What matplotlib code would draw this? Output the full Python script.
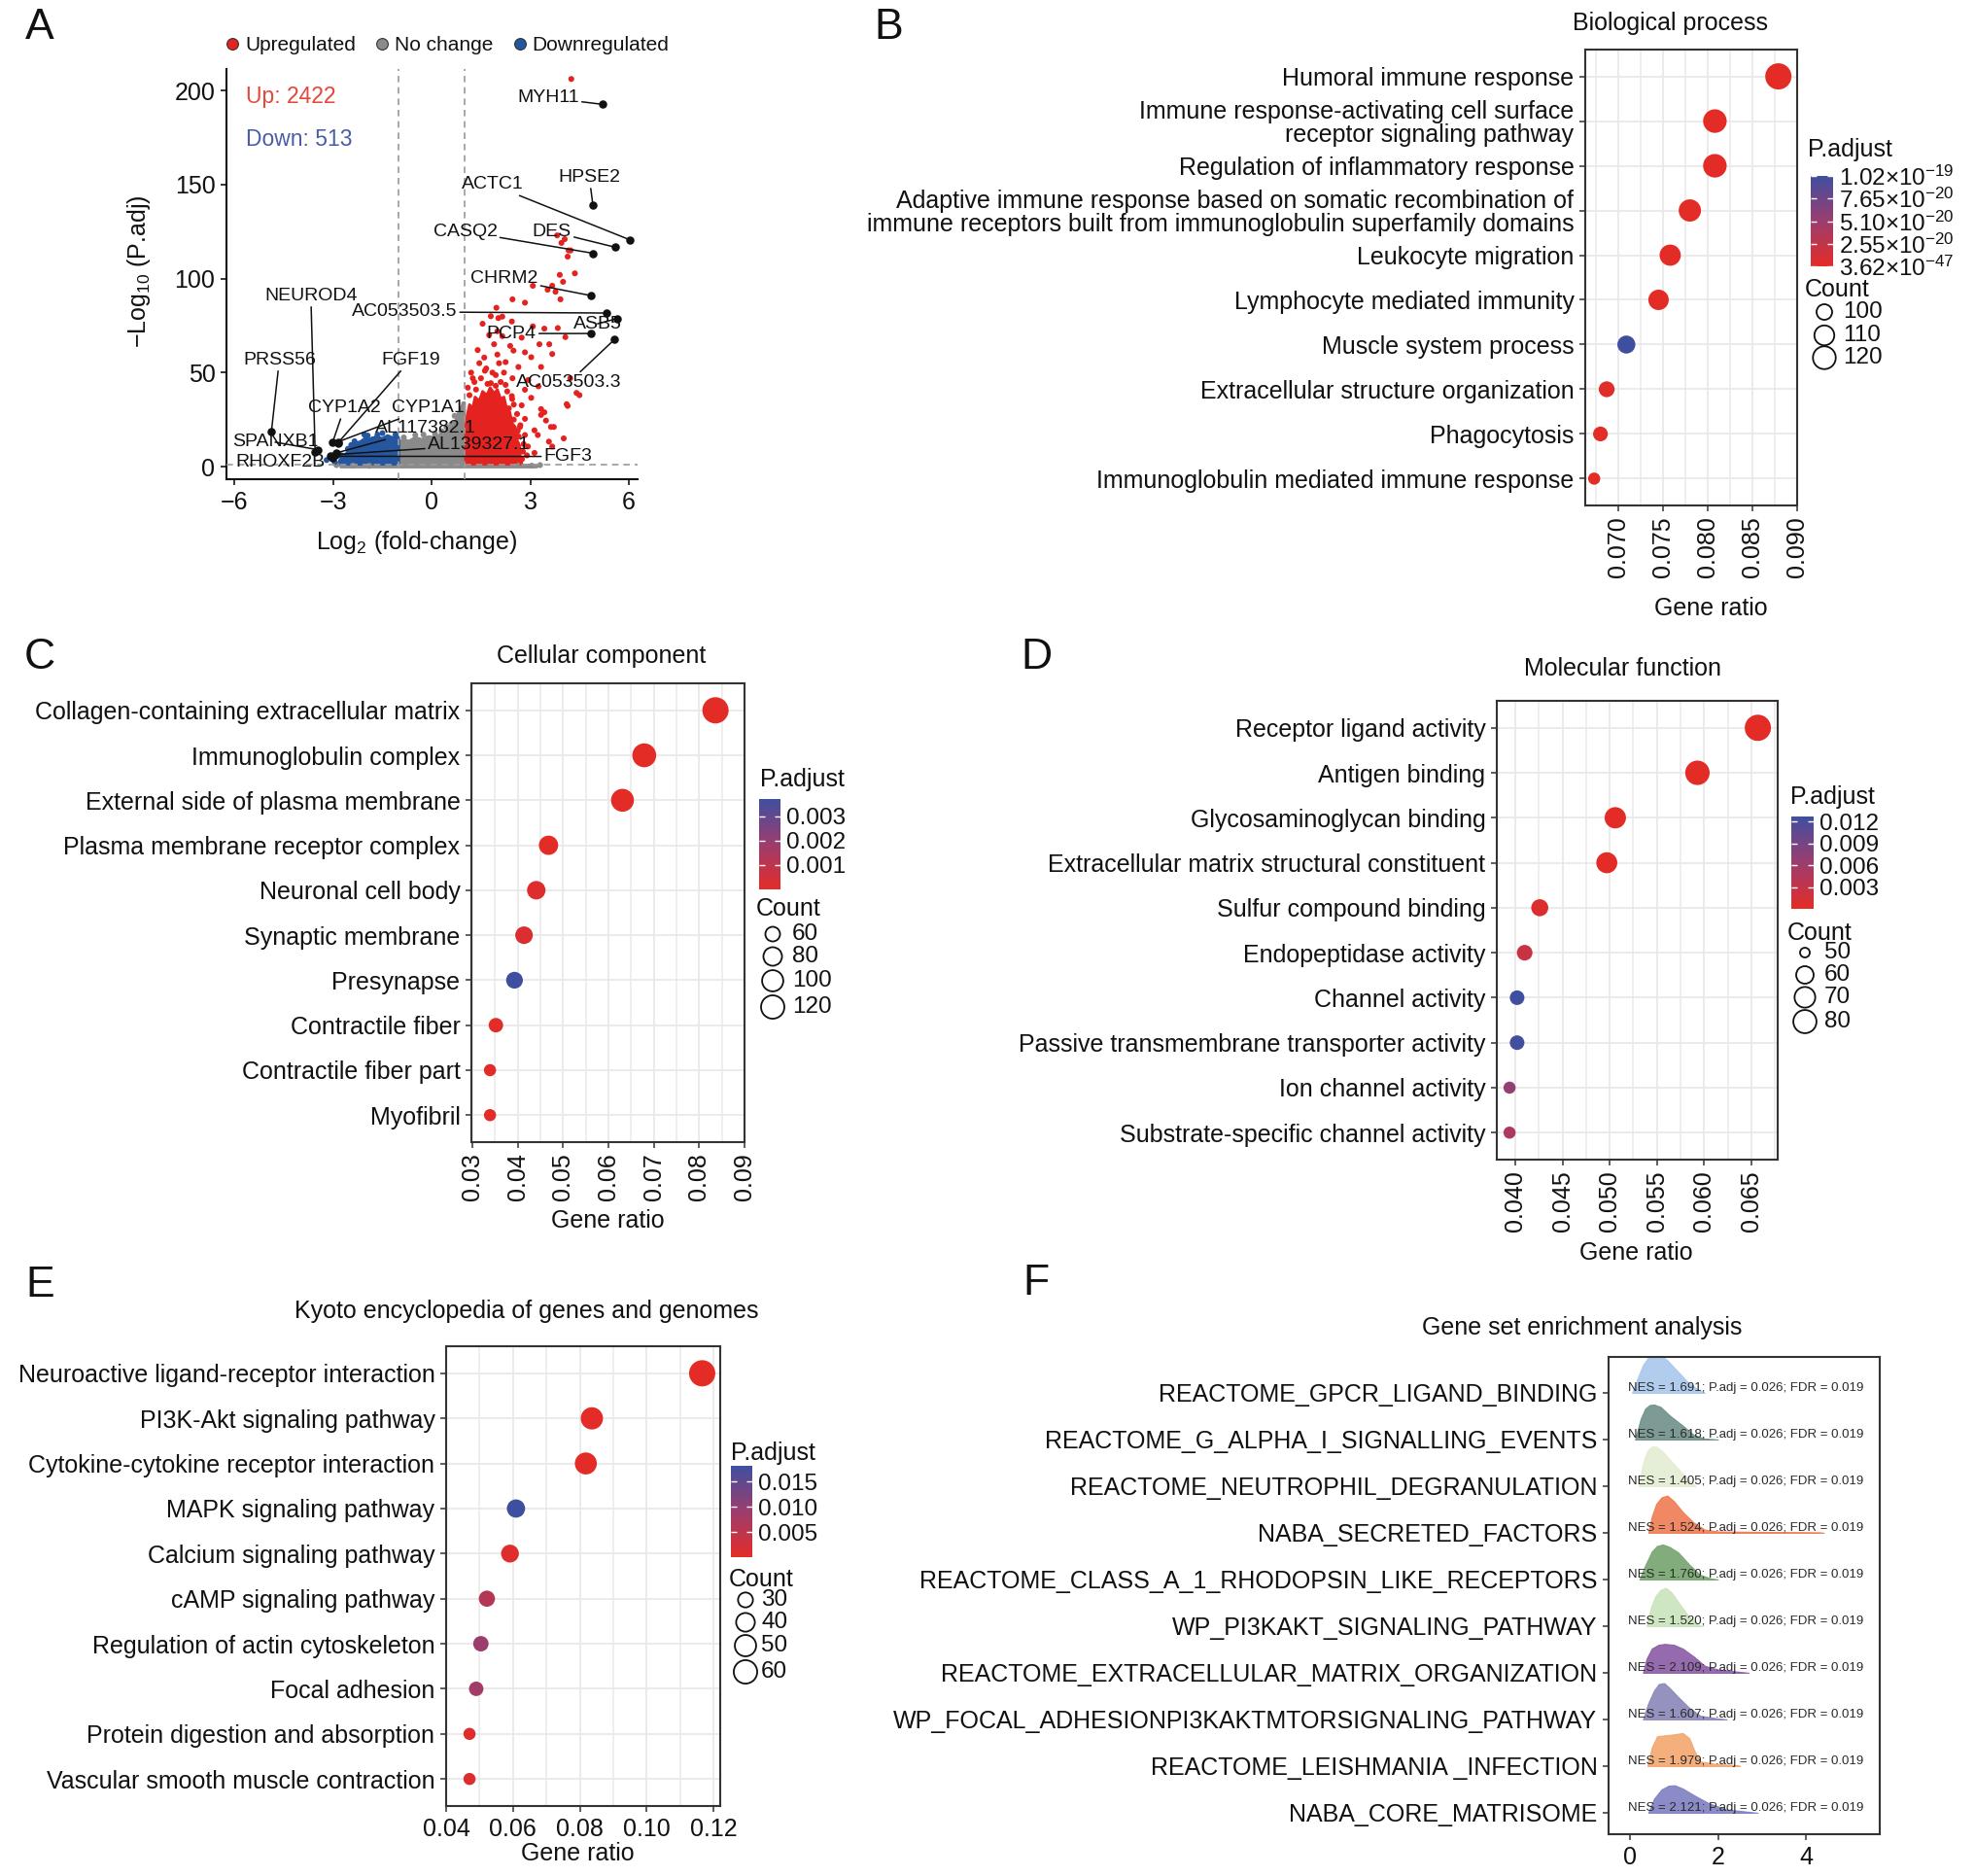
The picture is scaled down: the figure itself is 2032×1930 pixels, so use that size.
import numpy as np
import matplotlib
matplotlib.use("Agg")
import matplotlib.pyplot as plt
from matplotlib.colors import LinearSegmentedColormap, Normalize
from matplotlib.cm import ScalarMappable
from matplotlib.lines import Line2D

plt.rcParams['font.family'] = ['Liberation Sans', 'DejaVu Sans']
plt.rcParams['mathtext.fontset'] = 'custom'
plt.rcParams['mathtext.rm'] = 'Liberation Sans'
plt.rcParams['mathtext.it'] = 'Liberation Sans:italic'
plt.rcParams['mathtext.bf'] = 'Liberation Sans:bold'
plt.rcParams['mathtext.default'] = 'regular'
plt.rcParams['axes.unicode_minus'] = True

# ---------------- DATA ----------------
# Panel A: volcano
up_n, down_n = 2422, 513
red_pts = [(4.25, 206.2), (3.82, 123), (4.17, 115), (4.14, 111.7), (3.90, 102), (4.36, 102.8),
           (4.00, 98.3), (3.67, 96.2), (3.08, 96.2), (3.53, 94.1), (3.77, 93), (3.92, 89),
           (2.46, 89), (2.84, 87.2), (1.97, 84.5), (2.15, 79.8), (2.03, 79), (2.44, 77.2),
           (3.08, 74.6), (3.43, 73.4), (3.84, 73.7), (4.07, 68.9), (1.90, 65.1), (2.15, 69.4),
           (2.74, 68.6), (2.39, 64.2), (3.28, 65.1), (3.58, 65.1), (2.00, 59.6), (2.49, 61.7),
           (2.84, 60.8), (3.67, 59.9), (2.25, 55.6), (3.03, 58.2), (1.66, 52.2), (2.64, 53.0),
           (3.33, 53.0), (1.95, 48.7), (2.46, 47.0), (2.94, 46.1), (4.22, 47.0), (1.80, 44.4),
           (2.25, 43.5), (2.84, 40.9), (3.25, 42.7), (2.44, 37.5), (3.03, 36.6), (4.14, 32.3),
           (2.74, 32.6), (3.33, 30.6), (2.84, 25.4), (3.63, 21.1), (3.23, 16.8), (4.02, 15.0),
           (3.67, 10.7), (2.54, 2.9), (3.13, 7.3), (3.33, 27.5), (2.59, 12.4), (2.84, 16.8),
           (2.69, 21.1), (4.41, 39.2), (4.11, 33.2), (3.43, 28.9), (3.48, 24.5), (3.72, 21.1),
           (3.13, 19.3), (2.55, 15.0), (3.57, 13.3), (2.93, 10.7), (2.55, 3.8), (4.23, 115),
           (4.50, 38), (3.95, 119), (4.05, 121),
           (1.1, 42), (1.3, 45), (1.5, 47), (1.7, 44), (2.1, 45), (2.3, 40), (2.5, 33),
           (2.6, 28), (2.7, 22), (2.8, 12), (2.9, 6), (1.2, 50), (1.45, 55), (1.6, 58),
           (1.85, 50), (2.2, 50), (1.4, 62), (1.75, 70), (2.0, 72), (1.55, 76), (1.8, 80),
           (1.15, 38), (2.45, 36), (2.65, 16), (2.75, 4), (1.35, 41), (1.95, 43), (2.35, 31),
           (2.5, 25), (2.62, 19), (2.78, 8), (1.62, 51), (2.05, 55), (1.25, 47)]
blue_pts = [(-3.2, 3.5), (-2.95, 2.4), (-2.75, 6.0), (-2.55, 9.5), (-2.35, 13.5), (-2.05, 17),
            (-1.8, 14.5), (-1.5, 17.8), (-1.3, 15.2), (-1.1, 17.2), (-2.6, 3.0), (-2.2, 2.2),
            (-1.6, 2.0), (-1.2, 2.5), (-2.45, 11.5), (-1.95, 16.5), (-1.65, 17.0)]
grey_pts = [(-2.9, 0.8), (-2.4, 0.5), (-1.9, 0.4), (2.6, 0.9), (3.05, 0.5), (3.3, 0.8),
            (0.6, 22.5), (0.85, 28), (0.92, 31), (0.3, 18.8), (-0.5, 16.8), (-0.85, 15.5),
            (0.1, 17.5), (0.7, 27), (0.45, 21), (-0.25, 17)]
# dense clouds (outline of the solid masses of overlapping points)
red_cloud = [(1.03, 1.3), (1.03, 20), (1.08, 27), (1.15, 33), (1.25, 31), (1.32, 37),
             (1.45, 35), (1.55, 40), (1.68, 38), (1.78, 42), (1.9, 39), (2.0, 41), (2.1, 36),
             (2.2, 37), (2.28, 31), (2.38, 29), (2.45, 23), (2.55, 21), (2.6, 14), (2.68, 11),
             (2.7, 5), (2.75, 1.3)]
grey_cloud = [(-1.0, 0.0), (-1.0, 13), (-0.85, 14.5), (-0.7, 13.5), (-0.5, 15.5), (-0.3, 14.5),
              (-0.1, 16), (0.1, 15.5), (0.3, 17.5), (0.45, 19), (0.6, 21), (0.7, 24), (0.8, 26),
              (0.88, 30), (0.95, 34), (1.0, 34), (1.0, 0.0)]
grey_band = [(-2.8, 0.0), (3.2, 0.0), (3.2, 1.3), (-2.8, 1.3)]
blue_cloud = [(-2.85, 1.3), (-2.8, 3.5), (-2.7, 5.5), (-2.6, 7), (-2.5, 9.5), (-2.4, 10.5),
              (-2.3, 12.5), (-2.15, 13.5), (-2.0, 15.5), (-1.85, 14.5), (-1.7, 16), (-1.5, 15),
              (-1.35, 16.5), (-1.2, 15.5), (-1.05, 16.5), (-1.0, 15), (-1.0, 1.3)]
genes = ["MYH11", "HPSE2", "ACTC1", "DES", "CASQ2", "CHRM2", "AC053503.5", "ASB5", "PCP4",
         "AC053503.3", "PRSS56", "NEUROD4", "FGF19", "CYP1A2", "CYP1A1", "AL117382.1",
         "AL139327.1", "FGF3", "SPANXB1", "RHOXF2B"]
gene_x = [5.21, 4.91, 6.04, 5.59, 4.91, 4.84, 5.32, 5.66, 4.84, 5.57, -4.88, -3.55, -2.86,
          -3.02, -2.85, -2.9, -2.93, -3.07, -3.47, -3.02]
gene_y = [192.7, 139, 120.6, 116.7, 113.5, 91, 81.7, 78.8, 70.8, 67.7, 18.8, 7.7, 12.5,
          12.8, 13.2, 7.3, 6.4, 5.5, 9.0, 4.7]
label_x = [3.55, 4.80, 1.84, 3.66, 1.02, 2.21, -0.83, 5.05, 2.43, 4.17, -4.64, -3.68, -0.65,
           -2.66, -0.11, -0.19, 1.43, 4.15, -4.77, -4.61]
label_y = [196.2, 153.8, 150, 125, 125, 100, 82.3, 76, 70.8, 44.6, 56.7, 90.8, 56.7,
           31.2, 31.2, 20.2, 11.5, 5.4, 13, 2.3]

# Panel B: GO biological process
B_terms = ["Humoral immune response",
           "Immune response-activating cell surface\nreceptor signaling pathway",
           "Regulation of inflammatory response",
           "Adaptive immune response based on somatic recombination of\nimmune receptors built from immunoglobulin superfamily domains",
           "Leukocyte migration", "Lymphocyte mediated immunity", "Muscle system process",
           "Extracellular structure organization", "Phagocytosis",
           "Immunoglobulin mediated immune response"]
B_ratio = [0.0879, 0.0808, 0.0808, 0.0780, 0.0758, 0.0745, 0.0709, 0.0687, 0.0680, 0.0673]
B_count = [124, 114, 114, 110, 107, 105, 100, 97, 96, 95]
B_padj = [3.62e-47, 1.2e-30, 2.0e-29, 4.0e-33, 1.0e-24, 3.0e-27, 1.02e-19, 2.0e-21, 5.0e-22, 1.0e-26]
B_cticks = [3.62e-47, 2.55e-20, 5.10e-20, 7.65e-20, 1.02e-19]
B_clabels = [r"3.62$\times$10$^{-47}$", r"2.55$\times$10$^{-20}$", r"5.10$\times$10$^{-20}$",
             r"7.65$\times$10$^{-20}$", r"1.02$\times$10$^{-19}$"]
B_sizes = [100, 110, 120]

# Panel C: GO cellular component
C_terms = ["Collagen-containing extracellular matrix", "Immunoglobulin complex",
           "External side of plasma membrane", "Plasma membrane receptor complex",
           "Neuronal cell body", "Synaptic membrane", "Presynapse", "Contractile fiber",
           "Contractile fiber part", "Myofibril"]
C_ratio = [0.0836, 0.0679, 0.0631, 0.0468, 0.0441, 0.0414, 0.0393, 0.0352, 0.0339, 0.0339]
C_count = [125, 102, 94, 70, 66, 62, 59, 53, 51, 51]
C_padj = [1e-12, 2e-10, 5e-9, 2e-6, 1.5e-4, 2.5e-4, 3.7e-3, 1e-4, 5e-5, 5e-5]
C_cticks = [0.001, 0.002, 0.003]
C_sizes = [60, 80, 100, 120]

# Panel D: GO molecular function
D_terms = ["Receptor ligand activity", "Antigen binding", "Glycosaminoglycan binding",
           "Extracellular matrix structural constituent", "Sulfur compound binding",
           "Endopeptidase activity", "Channel activity",
           "Passive transmembrane transporter activity", "Ion channel activity",
           "Substrate-specific channel activity"]
D_ratio = [0.0657, 0.0593, 0.0506, 0.0497, 0.0426, 0.0410, 0.0402, 0.0402, 0.0394, 0.0394]
D_count = [83, 75, 64, 63, 54, 52, 51, 51, 50, 50]
D_padj = [1e-8, 1e-7, 2e-5, 3e-5, 8e-4, 2.5e-3, 1.27e-2, 1.25e-2, 6.8e-3, 5.0e-3]
D_cticks = [0.003, 0.006, 0.009, 0.012]
D_sizes = [50, 60, 70, 80]

# Panel E: KEGG
E_terms = ["Neuroactive ligand-receptor interaction", "PI3K-Akt signaling pathway",
           "Cytokine-cytokine receptor interaction", "MAPK signaling pathway",
           "Calcium signaling pathway", "cAMP signaling pathway",
           "Regulation of actin cytoskeleton", "Focal adhesion",
           "Protein digestion and absorption", "Vascular smooth muscle contraction"]
E_ratio = [0.1166, 0.0836, 0.0818, 0.0609, 0.0591, 0.0522, 0.0504, 0.0490, 0.0470, 0.0470]
E_count = [62, 44, 43, 32, 31, 28, 27, 26, 25, 25]
E_padj = [1e-8, 1e-4, 2e-4, 1.81e-2, 8e-4, 6e-3, 9e-3, 8e-3, 6e-4, 1e-3]
E_cticks = [0.005, 0.010, 0.015]
E_sizes = [30, 40, 50, 60]

# Panel F: GSEA ridges
F_terms = ["REACTOME_GPCR_LIGAND_BINDING", "REACTOME_G_ALPHA_I_SIGNALLING_EVENTS",
           "REACTOME_NEUTROPHIL_DEGRANULATION", "NABA_SECRETED_FACTORS",
           "REACTOME_CLASS_A_1_RHODOPSIN_LIKE_RECEPTORS", "WP_PI3KAKT_SIGNALING_PATHWAY",
           "REACTOME_EXTRACELLULAR_MATRIX_ORGANIZATION",
           "WP_FOCAL_ADHESIONPI3KAKTMTORSIGNALING_PATHWAY",
           "REACTOME_LEISHMANIA _INFECTION", "NABA_CORE_MATRISOME"]
F_nes = [1.691, 1.618, 1.405, 1.524, 1.760, 1.520, 2.109, 1.607, 1.979, 2.121]
F_padj = [0.026, 0.026, 0.026, 0.026, 0.026, 0.026, 0.026, 0.026, 0.026, 0.026]
F_fdr = [0.019, 0.019, 0.019, 0.019, 0.019, 0.019, 0.019, 0.019, 0.019, 0.019]
F_colors = ["#A9C7EC", "#6F8F8A", "#E3EDD2", "#EF7B52", "#76A36F",
            "#C9E4BB", "#8B5BA5", "#8A86B8", "#F3A66E", "#7F7EC2"]
ridge_x = [
    [0.05, 0.15, 0.3, 0.42, 0.55, 0.68, 0.85, 1.05, 1.3, 1.5, 1.7],
    [0.12, 0.25, 0.35, 0.45, 0.55, 0.7, 0.9, 1.2, 1.45, 1.7, 2.0],
    [0.2, 0.3, 0.4, 0.5, 0.6, 0.75, 0.9, 1.15, 1.35, 1.5],
    [0.42, 0.5, 0.6, 0.72, 0.85, 1.0, 1.2, 1.45, 1.7, 2.0, 3.0, 4.3, 4.4],
    [0.22, 0.35, 0.5, 0.62, 0.75, 0.9, 1.1, 1.35, 1.6, 1.85, 2.0],
    [0.38, 0.48, 0.58, 0.7, 0.82, 0.95, 1.15, 1.35, 1.55, 1.65],
    [0.3, 0.38, 0.5, 0.65, 0.8, 1.0, 1.2, 1.45, 1.7, 2.0, 2.4, 2.7],
    [0.3, 0.42, 0.55, 0.66, 0.78, 0.9, 1.1, 1.35, 1.6, 2.0, 2.2],
    [0.4, 0.5, 0.62, 0.8, 1.0, 1.2, 1.35, 1.48, 1.6, 2.0, 2.45, 2.5],
    [0.42, 0.55, 0.72, 0.88, 1.02, 1.2, 1.45, 1.8, 2.2, 2.6, 2.9]]
ridge_h = [
    [0.0, 0.25, 0.6, 0.76, 0.82, 0.82, 0.7, 0.5, 0.25, 0.1, 0.0],
    [0.0, 0.45, 0.66, 0.74, 0.75, 0.7, 0.52, 0.3, 0.1, 0.02, 0.0],
    [0.0, 0.5, 0.76, 0.85, 0.85, 0.74, 0.58, 0.32, 0.12, 0.0],
    [0.0, 0.35, 0.62, 0.76, 0.8, 0.68, 0.45, 0.22, 0.07, 0.03, 0.02, 0.01, 0.0],
    [0.0, 0.3, 0.6, 0.72, 0.75, 0.7, 0.58, 0.32, 0.1, 0.02, 0.0],
    [0.0, 0.4, 0.64, 0.78, 0.82, 0.72, 0.45, 0.2, 0.03, 0.0],
    [0.0, 0.3, 0.52, 0.6, 0.62, 0.6, 0.52, 0.35, 0.15, 0.07, 0.03, 0.0],
    [0.0, 0.35, 0.62, 0.76, 0.78, 0.68, 0.48, 0.25, 0.08, 0.02, 0.0],
    [0.0, 0.4, 0.64, 0.66, 0.68, 0.71, 0.6, 0.3, 0.1, 0.04, 0.02, 0.0],
    [0.0, 0.3, 0.5, 0.58, 0.59, 0.52, 0.38, 0.2, 0.07, 0.03, 0.0]]

# ---------------- FIGURE ----------------
W, H = 2032, 1930
fig = plt.figure(figsize=(W / 100, H / 100), dpi=100)
TXT = '#111111'
FS = 18
cmap = LinearSegmentedColormap.from_list('padj', ['#E42C27', '#9C3D6E', '#3F4FA0'])


def add_ax(l, t, r, b, **kw):
    return fig.add_axes([l / W, 1 - b / H, (r - l) / W, (b - t) / H], **kw)


ov = fig.add_axes([0, 0, 1, 1], zorder=10)
ov.set_xlim(0, W)
ov.set_ylim(H, 0)
ov.axis('off')


def T(x, y, s, **kw):
    kw.setdefault('color', TXT)
    return ov.text(x, y, s, **kw)


def dot_diam(c, lo, hi):
    c = np.asarray(c, float)
    return 12.5 + 14.5 * np.sqrt(np.clip((c - lo) / (hi - lo), 0, 1))


def style_box(ax):
    for sp in ax.spines.values():
        sp.set_color('#333333')
        sp.set_linewidth(1.5)
    ax.tick_params(which='major', length=4.3, width=1.1, color='#333333',
                   labelsize=FS, labelcolor=TXT, pad=4)
    ax.tick_params(which='minor', length=0)


def dotplot(box, terms, ratio, count, padj, xlim, xmaj, xlabs, xmin, rot, vmax):
    ax = add_ax(*box)
    n = len(terms)
    y = np.arange(n, 0, -1)
    ax.set_xlim(*xlim)
    ax.set_ylim(0.4, n + 0.6)
    ax.set_xticks(xmaj)
    ax.set_xticklabels(xlabs, rotation=rot)
    ax.set_xticks(xmin, minor=True)
    ax.set_yticks(y)
    ax.set_yticklabels(terms, linespacing=1.0)
    ax.grid(True, which='major', color='#E9E9E9', lw=1.3)
    ax.grid(True, which='minor', axis='x', color='#E9E9E9', lw=1.1)
    ax.set_axisbelow(True)
    d = dot_diam(count, min(count), max(count))
    ax.scatter(ratio, y, s=(0.72 * d) ** 2, c=padj, cmap=cmap, norm=Normalize(0, vmax),
               edgecolors='none', zorder=3, clip_on=False)
    style_box(ax)
    return ax


def colorbar(box, vmax, ticks, labels):
    cax = add_ax(*box)
    sm = ScalarMappable(norm=Normalize(0, vmax), cmap=cmap)
    cb = fig.colorbar(sm, cax=cax)
    cb.outline.set_visible(False)
    cb.set_ticks(ticks)
    cb.set_ticklabels(labels)
    cax.yaxis.set_ticks_position('both')
    cax.tick_params(axis='y', direction='in', length=4, width=1, color='white',
                    labelcolor=TXT, labelsize=17.5, pad=4, labelleft=False, labelright=True)


def size_legend(xc, ys, xl, values, count):
    d = dot_diam(values, min(count), max(count)) - 2.5
    ov.scatter([xc] * len(values), ys, s=(0.72 * d) ** 2, facecolors='none',
               edgecolors=TXT, linewidths=1.3)
    for yy, v in zip(ys, values):
        T(xl, yy, str(v), ha='left', va='center', fontsize=17.5)


# ---------- Panel A ----------
axA = add_ax(233, 71, 656, 493)
axA.set_xlim(-6.25, 6.27)
axA.set_ylim(-6.7, 211.5)
c_up, c_nc, c_dn = '#E42320', '#8A8A8A', '#24579F'
for poly, col in [(grey_band, c_nc), (grey_cloud, c_nc), (blue_cloud, c_dn), (red_cloud, c_up)]:
    p = np.array(poly)
    axA.fill(p[:, 0], p[:, 1], color=col, lw=2, joinstyle='round', zorder=2)
for pts, col in [(grey_pts, c_nc), (blue_pts, c_dn), (red_pts, c_up)]:
    p = np.array(pts)
    axA.scatter(p[:, 0], p[:, 1], s=19, color=col, edgecolors='none', zorder=3)
for xv in (-1, 1):
    axA.axvline(xv, color='#9A9A9A', lw=1.2, ls=(0, (4, 3)), zorder=4)
axA.axhline(-np.log10(0.05), color='#9A9A9A', lw=1.2, ls=(0, (4, 3)), zorder=4)
axA.scatter(gene_x, gene_y, s=26, color='#111111', zorder=6)
for g, px, py, tx, ty in zip(genes, gene_x, gene_y, label_x, label_y):
    axA.annotate(g, xy=(px, py), xytext=(tx, ty), ha='center', va='center', fontsize=14,
                 color=TXT, zorder=7,
                 arrowprops=dict(arrowstyle='-', color='#111111', lw=1.1, shrinkA=0, shrinkB=2))
axA.text(-5.66, 197, f"Up: {up_n}", color='#E5473A', fontsize=16.5, ha='left', va='center')
axA.text(-5.66, 174, f"Down: {down_n}", color='#4A5EA8', fontsize=16.5, ha='left', va='center')
axA.set_xticks([-6, -3, 0, 3, 6])
axA.set_yticks([0, 50, 100, 150, 200])
for s in ('top', 'right'):
    axA.spines[s].set_visible(False)
for s in ('left', 'bottom'):
    axA.spines[s].set_linewidth(1.5)
    axA.spines[s].set_color('#111111')
axA.tick_params(length=4.3, width=1.1, labelsize=FS, labelcolor=TXT, pad=4)
T(429, 558, r"Log$_{2}$ (fold-change)", ha='center', va='center', fontsize=FS)
T(143, 279, r"$-$Log$_{10}$ (P.adj)", ha='center', va='center', fontsize=FS, rotation=90)
handles = [Line2D([], [], marker='o', ls='', markersize=8.5, markerfacecolor=c, markeredgecolor='#333333',
                  markeredgewidth=0.8) for c in (c_up, c_nc, c_dn)]
axA.legend(handles, ['Upregulated', 'No change', 'Downregulated'], ncol=3, loc='center left',
           bbox_to_anchor=(229 / W, 1 - 47 / H), bbox_transform=fig.transFigure, frameon=False,
           handletextpad=0.12, columnspacing=0.8, handlelength=1.0, borderaxespad=0, borderpad=0,
           fontsize=15, labelcolor=TXT)

# ---------- Panel B ----------
dotplot((1631, 51, 1849, 520), B_terms, B_ratio, B_count, B_padj, (0.0663, 0.0900),
        [0.070, 0.075, 0.080, 0.085, 0.090], ["0.070", "0.075", "0.080", "0.085", "0.090"],
        [0.0675, 0.0725, 0.0775, 0.0825, 0.0875], 90, 1.02e-19)
colorbar((1863, 181, 1886, 274), 1.02e-19, B_cticks, B_clabels)
T(1860, 154, "P.adjust", ha='left', va='center', fontsize=FS)
T(1857, 298, "Count", ha='left', va='center', fontsize=FS)
size_legend(1877, [321, 345, 368], 1896, B_sizes, B_count)
T(1718, 24, "Biological process", ha='center', va='center', fontsize=FS)
T(1760, 626, "Gene ratio", ha='center', va='center', fontsize=FS)

# ---------- Panel C ----------
dotplot((485, 703, 766, 1175), C_terms, C_ratio, C_count, C_padj, (0.0298, 0.0900),
        [0.03, 0.04, 0.05, 0.06, 0.07, 0.08, 0.09],
        ["0.03", "0.04", "0.05", "0.06", "0.07", "0.08", "0.09"],
        [0.035, 0.045, 0.055, 0.065, 0.075, 0.085], 90, 0.0037)
colorbar((781, 822, 803, 915), 0.0037, C_cticks, ["0.001", "0.002", "0.003"])
T(782, 802, "P.adjust", ha='left', va='center', fontsize=FS)
T(778, 935, "Count", ha='left', va='center', fontsize=FS)
size_legend(795, [961, 984, 1009, 1036], 815, C_sizes, C_count)
T(619, 675, "Cellular component", ha='center', va='center', fontsize=FS)
T(625, 1256, "Gene ratio", ha='center', va='center', fontsize=FS)

# ---------- Panel D ----------
dotplot((1540, 721, 1829, 1193), D_terms, D_ratio, D_count, D_padj, (0.03805, 0.0678),
        [0.040, 0.045, 0.050, 0.055, 0.060, 0.065],
        ["0.040", "0.045", "0.050", "0.055", "0.060", "0.065"],
        [0.0425, 0.0475, 0.0525, 0.0575, 0.0625, 0.0675], 90, 0.0127)
colorbar((1843, 840, 1866, 935), 0.0127, D_cticks, ["0.003", "0.006", "0.009", "0.012"])
T(1842, 820, "P.adjust", ha='left', va='center', fontsize=FS)
T(1839, 960, "Count", ha='left', va='center', fontsize=FS)
size_legend(1857, [980, 1003, 1026, 1051], 1877, D_sizes, D_count)
T(1670, 688, "Molecular function", ha='center', va='center', fontsize=FS)
T(1683, 1289, "Gene ratio", ha='center', va='center', fontsize=FS)

# ---------- Panel E ----------
dotplot((459, 1385, 741, 1858), E_terms, E_ratio, E_count, E_padj, (0.040, 0.122),
        [0.04, 0.06, 0.08, 0.10, 0.12], ["0.04", "0.06", "0.08", "0.10", "0.12"],
        [0.05, 0.07, 0.09, 0.11], 0, 0.0181)
colorbar((752, 1508, 774, 1602), 0.0181, E_cticks, ["0.005", "0.010", "0.015"])
T(752, 1495, "P.adjust", ha='left', va='center', fontsize=FS)
T(750, 1625, "Count", ha='left', va='center', fontsize=FS)
size_legend(767, [1646, 1669, 1693, 1720], 783, E_sizes, E_count)
T(542, 1349, "Kyoto encyclopedia of genes and genomes", ha='center', va='center', fontsize=FS)
T(594, 1907, "Gene ratio", ha='center', va='center', fontsize=FS)

# ---------- Panel F ----------
axF = add_ax(1655, 1396, 1934, 1887)
nF = len(F_terms)
basesF = np.arange(nF, 0, -1)
for i in range(nF):
    xs = np.array(ridge_x[i])
    hs = np.array(ridge_h[i])
    b = basesF[i]
    axF.fill_between(xs, b, b + hs, facecolor=F_colors[i], edgecolor=F_colors[i],
                     alpha=0.9, lw=0.8, zorder=2 + 0.01 * i)
    axF.text(-0.05, b + 0.1, f"NES = {F_nes[i]:.3f}; P.adj = {F_padj[i]:.3f}; FDR = {F_fdr[i]:.3f}",
             fontsize=9.5, ha='left', va='center', color='#2a2a2a', zorder=5)
axF.set_xlim(-0.48, 5.67)
axF.set_ylim(0.54, 10.77)
axF.set_yticks(basesF)
axF.set_yticklabels(F_terms)
axF.set_xticks([0, 2, 4])
style_box(axF)
T(1628, 1366, "Gene set enrichment analysis", ha='center', va='center', fontsize=FS)

# ---------- panel letters ----------
for lab, x, y in [("A", 41, 29), ("B", 914, 29), ("C", 41, 677), ("D", 1066, 677),
                  ("E", 41, 1323), ("F", 1066, 1320)]:
    T(x, y, lab, ha='center', va='center', fontsize=32)

fig.savefig("out.png", dpi=100)
